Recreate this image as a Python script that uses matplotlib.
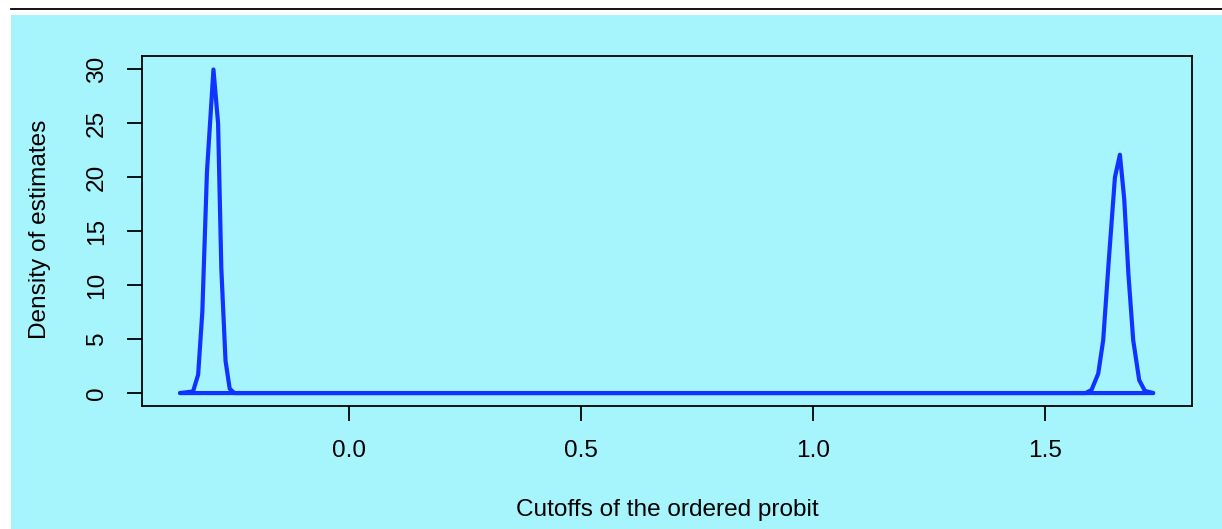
import matplotlib
matplotlib.use("Agg")
import matplotlib.pyplot as plt
from matplotlib.patches import Rectangle
from matplotlib.lines import Line2D

# Density of the first cutoff estimates
cut1_x = [-0.364, -0.336, -0.325, -0.316, -0.306, -0.292, -0.282, -0.275, -0.266, -0.257, -0.247, 1.733]
cut1_y = [0.0, 0.15, 1.7, 7.5, 20.5, 30.0, 25.0, 11.5, 3.0, 0.4, 0.0, 0.0]

# Density of the second cutoff estimates
cut2_x = [-0.364, 1.588, 1.6006, 1.6149, 1.6256, 1.638, 1.6509, 1.6616, 1.6709, 1.680, 1.6903, 1.7032, 1.7155, 1.7334]
cut2_y = [0.0, 0.0, 0.3, 1.8, 4.9, 12.5, 20.0, 22.1, 18.0, 11.0, 4.9, 1.2, 0.2, 0.0]

xticks = [0.0, 0.5, 1.0, 1.5]
xtick_labels = ["0.0", "0.5", "1.0", "1.5"]
yticks = [0, 5, 10, 15, 20, 25, 30]

W, H = 1222, 529
BG = "#a6f5fc"
LINE = "#1133ff"
FS = 17.6
plt.rcParams['font.family'] = ['Liberation Sans', 'DejaVu Sans']

fig = plt.figure(figsize=(W / 100, H / 100), dpi=100, facecolor="white")

# cyan panel and top rule
fig.patches.append(Rectangle((11 / W, 0), 1 - 11 / W, 1 - 15 / H, transform=fig.transFigure,
                             facecolor=BG, edgecolor="none", zorder=-10))
fig.lines.append(Line2D([11 / W, 1], [1 - 9 / H, 1 - 9 / H], transform=fig.transFigure,
                        color="black", lw=1.3, zorder=-10))

ax = fig.add_axes([142 / W, 1 - 406 / H, 1050 / W, 350 / H])
ax.set_zorder(5)
ax.set_facecolor(BG)
ax.plot(cut1_x, cut1_y, color=LINE, lw=3.0, solid_capstyle="round", solid_joinstyle="round")
ax.plot(cut2_x, cut2_y, color=LINE, lw=3.0, solid_capstyle="round", solid_joinstyle="round")

ax.set_xlim(-0.446, 1.817)
ax.set_ylim(-1.2, 31.25)
ax.set_xticks(xticks)
ax.set_xticklabels(xtick_labels)
ax.set_yticks(yticks)
ax.set_yticklabels([str(v) for v in yticks], rotation=90, va="center")
for s in ax.spines.values():
    s.set_linewidth(1.3)
    s.set_color("black")
ax.tick_params(axis="both", direction="out", length=10.5, width=1.3, labelsize=FS, pad=14)

fig.text(40 / W, 1 - 229 / H, "Density of estimates", rotation=90, ha="center", va="center", fontsize=FS)
fig.text(667 / W, 1 - 510 / H, "Cutoffs of the ordered probit", ha="center", va="center", fontsize=FS)

fig.savefig("out.png", dpi=100, facecolor="white")
